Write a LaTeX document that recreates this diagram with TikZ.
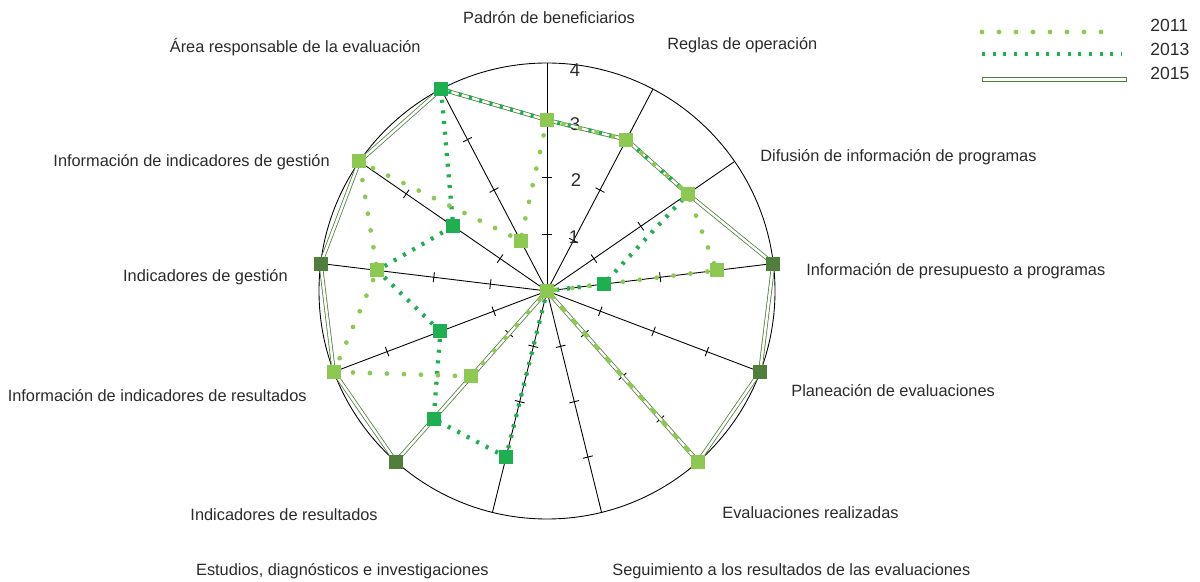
\documentclass[tikz,border=0pt]{standalone}
\usepackage{fontspec}
\setmainfont{Liberation Sans}
\usepackage{tikz}

\definecolor{verde2011}{HTML}{8DC853}
\definecolor{verde2013}{HTML}{1DAF50}
\definecolor{verde2015}{HTML}{4F7F3B}
\definecolor{texto}{HTML}{2B2B2B}

\tikzset{
  eje/.style={black, line width=0.5pt},
  serie2011/.style={verde2011, line width=0.095cm, line cap=round, dash pattern=on 0cm off 0.34cm},
  serie2013/.style={verde2013, line width=0.085cm, dash pattern=on 0.06cm off 0.154cm},
  serie2015/.style={draw=verde2015, line width=0.45pt, double=white, double distance=1.4pt, line join=round},
  marca/.style={rectangle, inner sep=0pt, minimum size=0.28cm},
  etiqueta/.style={text=texto, font=\fontsize{9.3}{11}\selectfont, inner sep=0pt},
}

\begin{document}
\begin{tikzpicture}
  \useasboundingbox (-10.94,-5.82) rectangle (13.06,5.82);

  % ejes
  \draw[eje] (0,0) circle (4.56);
  \foreach \k in {0,...,12} {
    \draw[eje, rotate={90-\k*360/13}] (0,0) -- (4.56,0);
    \foreach \r in {1.14,2.28,3.42}
      \draw[eje, rotate={90-\k*360/13}] (\r,-0.1) -- (\r,0.1);
  }

  \node[etiqueta, font=\fontsize{10.5}{12}\selectfont] (n4) at (0.56,4.42) {4};
  \node[etiqueta, font=\fontsize{10.5}{12}\selectfont] (n3) at (0.56,3.34) {3};
  \node[etiqueta, font=\fontsize{10.5}{12}\selectfont] (n2) at (0.58,2.22) {2};
  \node[etiqueta, font=\fontsize{10.5}{12}\selectfont] (n1) at (0.54,1.08) {1};

  % datos
  \foreach \v [count=\k from 0] in {3,3,3,3,0,4,0,0,2,4,3,4,1}
    \coordinate (a\k) at ({90-\k*360/13}:{\v*1.14});
  \foreach \v [count=\k from 0] in {3,3,3,1,0,0,0,3,3,2,3,2,4}
    \coordinate (b\k) at ({90-\k*360/13}:{\v*1.14});
  \foreach \v [count=\k from 0] in {3,3,3,4,4,4,0,0,4,4,4,4,4}
    \coordinate (c\k) at ({90-\k*360/13}:{\v*1.14});

  \draw[serie2015] (c0) -- (c1) -- (c2) -- (c3) -- (c4) -- (c5) -- (c6) -- (c7) -- (c8) -- (c9) -- (c10) -- (c11) -- (c12) -- cycle;
  \draw[serie2013] (b0) -- (b1) -- (b2) -- (b3) -- (b4) -- (b5) -- (b6) -- (b7) -- (b8) -- (b9) -- (b10) -- (b11) -- (b12) -- cycle;
  \draw[serie2011] (a0) -- (a1) -- (a2) -- (a3) -- (a4) -- (a5) -- (a6) -- (a7) -- (a8) -- (a9) -- (a10) -- (a11) -- (a12) -- cycle;

  \foreach \k in {0,...,12}
    \node[marca, fill=verde2015] (mc\k) at (c\k) {};
  \foreach \k in {0,...,12}
    \node[marca, fill=verde2013] (mb\k) at (b\k) {};
  \foreach \k in {0,...,12}
    \node[marca, fill=verde2011] (ma\k) at (a\k) {};

  % etiquetas
  \node[etiqueta] (padron) at (0.04,5.46) {Padrón de beneficiarios};
  \node[etiqueta, anchor=west] (reglas) at (2.40,4.92) {Reglas de operación};
  \node[etiqueta, anchor=west] (difusion) at (4.26,2.68) {Difusión de información de programas};
  \node[etiqueta, anchor=west] (presupuesto) at (5.18,0.40) {Información de presupuesto a programas};
  \node[etiqueta, anchor=west] (planeacion) at (4.88,-2.00) {Planeación de evaluaciones};
  \node[etiqueta, anchor=west] (realizadas) at (3.50,-4.44) {Evaluaciones realizadas};
  \node[etiqueta, anchor=west] (seguimiento) at (1.30,-5.60) {Seguimiento a los resultados de las evaluaciones};
  \node[etiqueta, anchor=east] (estudios) at (-1.16,-5.60) {Estudios, diagnósticos e investigaciones};
  \node[etiqueta, anchor=east] (indres) at (-3.38,-4.48) {Indicadores de resultados};
  \node[etiqueta, anchor=east] (infres) at (-4.80,-2.10) {Información de indicadores de resultados};
  \node[etiqueta, anchor=east] (indges) at (-5.18,0.28) {Indicadores de gestión};
  \node[etiqueta, anchor=east] (infges) at (-4.34,2.58) {Información de indicadores de gestión};
  \node[etiqueta, anchor=east] (area) at (-2.52,4.88) {Área responsable de la evaluación};

  % leyenda
  \coordinate (l1a) at (8.70,5.18);
  \coordinate (l1b) at (11.40,5.18);
  \coordinate (l2a) at (8.70,4.74);
  \coordinate (l2b) at (11.50,4.74);
  \draw[serie2011] (l1a) -- (l1b);
  \draw[serie2013] (l2a) -- (l2b);
  \draw[verde2015, line width=0.45pt, fill=white] (8.70,4.20) rectangle (11.58,4.28);
  \node[etiqueta, anchor=west, font=\fontsize{10}{12}\selectfont] (l2011) at (12.06,5.32) {2011};
  \node[etiqueta, anchor=west, font=\fontsize{10}{12}\selectfont] (l2013) at (12.06,4.84) {2013};
  \node[etiqueta, anchor=west, font=\fontsize{10}{12}\selectfont] (l2015) at (12.06,4.36) {2015};
\end{tikzpicture}
\end{document}
